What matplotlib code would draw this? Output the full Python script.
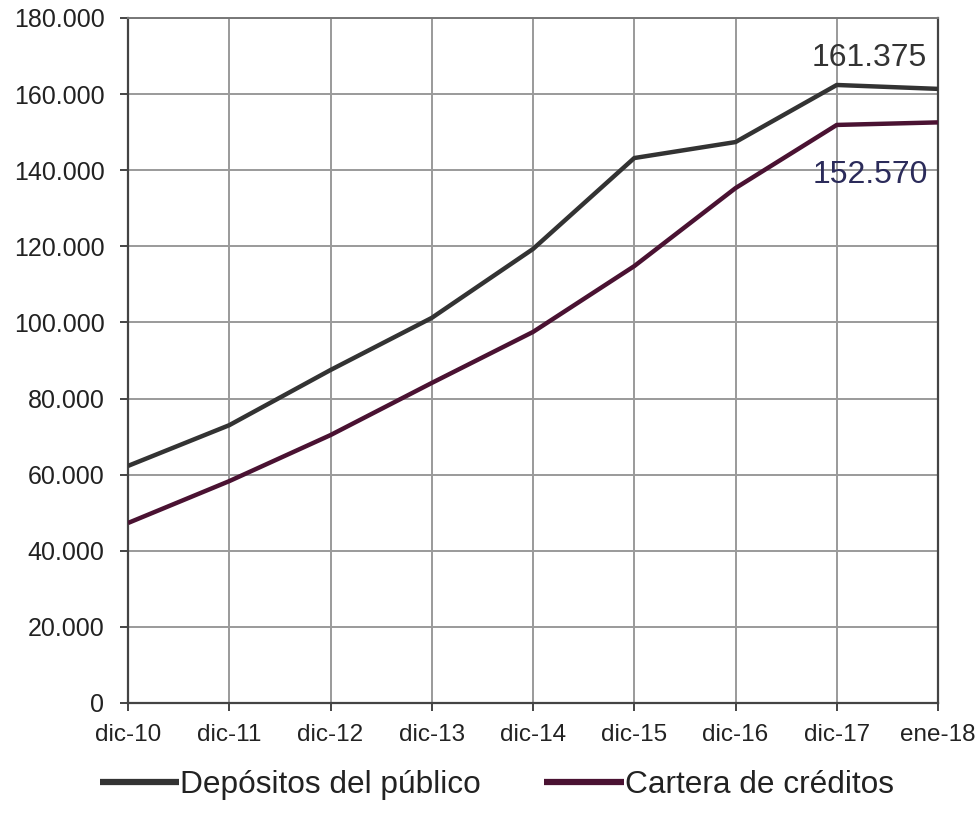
import matplotlib
matplotlib.use("Agg")
import matplotlib.pyplot as plt
from matplotlib.ticker import FuncFormatter

plt.rcParams['font.family'] = ['Liberation Sans', 'DejaVu Sans']

categories = ["dic-10", "dic-11", "dic-12", "dic-13", "dic-14", "dic-15", "dic-16", "dic-17", "ene-18"]
depositos = [62300, 73000, 87500, 101200, 119300, 143200, 147400, 162400, 161375]
cartera = [47300, 58300, 70400, 84100, 97500, 114800, 135300, 151900, 152570]
yticks = list(range(0, 180001, 20000))

fig = plt.figure(figsize=(9.8, 8.13), dpi=100)
ax = fig.add_axes([128/980, 1 - 703/813, (938-128)/980, (703-18)/813])

x = list(range(len(categories)))
ax.plot(x, depositos, color="#333333", lw=3.2, label="Depósitos del público", solid_capstyle="butt", zorder=3)
ax.plot(x, cartera, color="#4a1232", lw=3.2, label="Cartera de créditos", solid_capstyle="butt", zorder=3)

ax.set_xlim(0, len(categories) - 1)
ax.set_ylim(0, 180000)
ax.set_yticks(yticks)
ax.yaxis.set_major_formatter(FuncFormatter(lambda v, p: "0" if v == 0 else f"{int(v):,}".replace(",", ".")))
ax.set_xticks(x)
ax.set_xticklabels(categories)
ax.grid(True, color="#9a9a9a", lw=1.4)
for s in ["left", "bottom", "right"]:
    ax.spines[s].set_color("#444444")
    ax.spines[s].set_linewidth(1.6)
ax.spines["top"].set_color("#777777")
ax.spines["top"].set_linewidth(1.4)
ax.tick_params(axis="both", direction="out", length=6, width=1.4, color="#444444",
               labelcolor="#222222")
ax.tick_params(axis="y", labelsize=18, pad=11)
ax.tick_params(axis="x", labelsize=17.5, pad=9)

ax.annotate(f"{depositos[-1]:,.0f}".replace(",", "."), xy=(7.32, 169500), fontsize=23,
            color="#333333", ha="center", va="center")
ax.annotate(f"{cartera[-1]:,.0f}".replace(",", "."), xy=(7.33, 138700), fontsize=23,
            color="#2b2b5a", ha="center", va="center")

leg = ax.legend(loc="center left", bbox_to_anchor=(-57/810, -82/685), ncol=2, frameon=False,
                fontsize=22.8, handlelength=2.5, handletextpad=0.05, columnspacing=2.0,
                labelcolor="#222222")
for h in leg.get_lines():
    h.set_linewidth(4.5)

fig.savefig("out.png", dpi=100)
